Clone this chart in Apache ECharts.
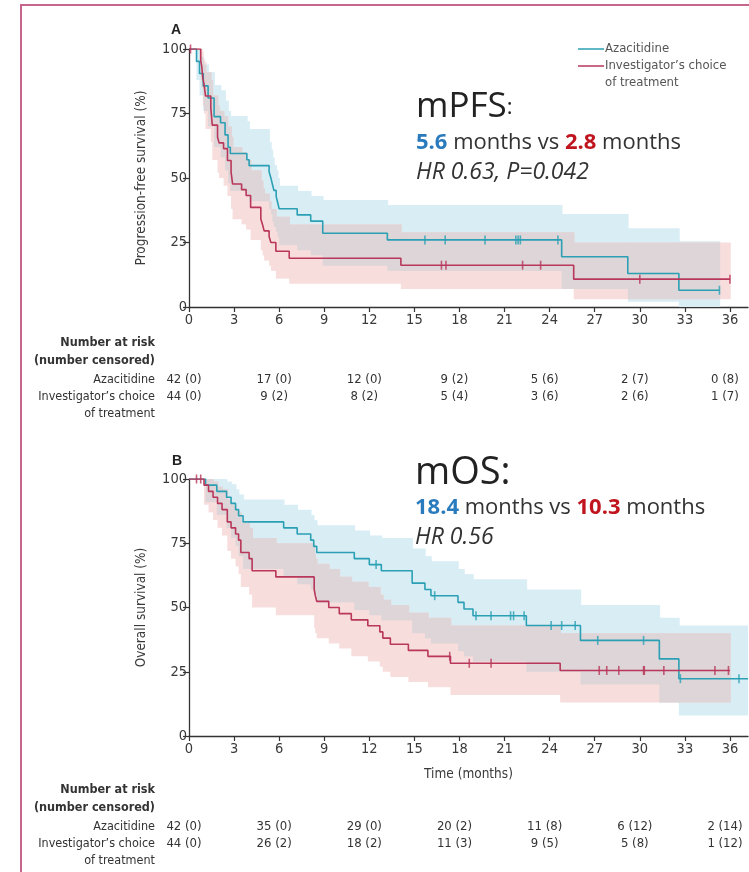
<!DOCTYPE html>
<html>
<head>
<meta charset="utf-8">
<script src="https://cdn.jsdelivr.net/npm/echarts@6/dist/echarts.min.js"></script>
<style>
  html, body { margin: 0; padding: 0; background: #fff; }
  #chart { width: 749px; height: 872px; }
</style>
</head>
<body>
<div id="chart"></div>
<script>
// ---- axis ticks ----
const monthTicks = [0, 3, 6, 9, 12, 15, 18, 21, 24, 27, 30, 33, 36];
const pctTicks = [0, 25, 50, 75, 100];
const riskTimes = [0, 6, 12, 18, 24, 30, 36];

// ---- A: progression-free survival, azacitidine ----
const pfsAzaT  = [0, 0.5, 0.7, 0.95, 1.27, 1.67, 2.1, 2.4, 2.6, 2.75, 3.85, 4.0, 5.33, 5.45, 5.55, 5.65, 5.8, 5.9, 6.0, 7.2, 8.1, 8.9, 13.2, 24.8, 29.2, 32.6];
const pfsAzaS  = [100, 95.2, 90.5, 85.7, 81.0, 73.8, 71.4, 66.7, 61.9, 59.5, 57.1, 54.8, 52.4, 50.0, 47.6, 45.2, 42.9, 40.5, 38.1, 35.7, 33.3, 28.6, 26.0, 19.5, 13.0, 6.5];
const pfsAzaHi = [100, 100, 97, 94, 91, 86, 84, 80, 76, 74, 72, 69, 64, 61, 58, 55, 53, 50, 47, 45, 43, 41.5, 39.5, 36, 30.5, 25.5];
const pfsAzaLo = [100, 88, 82, 76, 70, 62, 58, 53, 48, 45, 43, 41, 38, 36, 33, 31, 29, 27, 24, 22, 20, 16, 14, 7, 2, 0];
const pfsAzaEnd = 35.3;
const pfsAzaCens = [15.7, 17.05, 19.7, 21.75, 21.9, 22.05, 24.55, 35.3];

// ---- A: progression-free survival, investigator's choice ----
const pfsInvT  = [0, 0.78, 0.85, 0.92, 1.0, 1.1, 1.45, 1.55, 1.9, 2.0, 2.3, 2.56, 2.8, 2.9, 3.5, 3.8, 4.1, 4.78, 4.9, 5.0, 5.33, 5.45, 5.78, 6.67, 14.1, 25.6];
const pfsInvS  = [100, 95.5, 93.2, 88.6, 86.4, 81.8, 77.3, 70.5, 65.9, 63.6, 61.4, 56.8, 52.3, 47.7, 45.5, 43.2, 38.6, 34.1, 31.8, 29.5, 27.3, 25.0, 21.6, 18.9, 16.2, 10.8];
const pfsInvHi = [100, 100, 99, 96, 95, 91, 88, 82, 78, 76, 74, 70, 66, 62, 60, 57, 53, 49, 46, 44, 41, 38, 35, 32, 29, 25];
const pfsInvLo = [100, 88, 85, 78, 75, 69, 64, 57, 52, 50, 47, 43, 38, 34, 32, 30, 26, 22, 20, 18, 16, 14, 11, 9, 7, 3];
const pfsInvEnd = 36.0;
const pfsInvCens = [0.1, 16.8, 17.1, 22.2, 23.4, 30.0, 36.0];

// ---- B: overall survival, azacitidine ----
const osAzaT  = [0, 1.1, 1.85, 2.5, 2.8, 3.1, 3.3, 3.6, 6.3, 7.2, 8.1, 8.3, 8.5, 11.0, 12.0, 12.8, 14.85, 15.7, 16.1, 17.9, 18.3, 18.9, 22.45, 26.05, 31.3, 32.6];
const osAzaS  = [100, 97.6, 95.2, 92.9, 90.5, 88.1, 85.7, 83.3, 81.0, 78.6, 76.2, 73.8, 71.4, 69.0, 66.7, 64.3, 59.5, 57.0, 54.6, 52.0, 49.4, 46.8, 43.0, 37.2, 30.0, 22.3];
const osAzaHi = [100, 100, 100, 99, 98, 96, 94, 92, 90, 88, 86, 84, 82, 80, 78, 77, 73, 70, 68, 65, 63, 61, 57, 51, 46, 43];
const osAzaLo = [100, 91, 86, 81, 77, 74, 70, 65, 62, 59, 57, 55, 52, 49, 47, 45, 40, 38, 36, 33, 31, 29, 25, 20, 13, 8];
const osAzaEnd = 37.2;
const osAzaCens = [12.45, 16.35, 19.1, 20.1, 21.4, 21.6, 22.3, 24.1, 24.8, 25.7, 27.2, 30.25, 32.7, 36.6];

// ---- B: overall survival, investigator's choice ----
const osInvT  = [0, 1.0, 1.3, 1.6, 1.9, 2.2, 2.55, 2.8, 3.1, 3.3, 3.45, 4.0, 4.2, 5.78, 8.33, 8.4, 8.5, 9.3, 10.0, 10.8, 11.9, 12.7, 12.9, 13.4, 14.6, 15.9, 17.4, 24.7];
const osInvS  = [100, 97.6, 95.2, 92.9, 90.5, 88.1, 83.3, 81.0, 78.6, 76.2, 71.4, 69.0, 64.3, 61.9, 57.1, 54.8, 52.4, 50.0, 47.6, 45.2, 42.9, 40.5, 38.1, 35.7, 33.3, 31.0, 28.3, 25.5];
const osInvHi = [100, 100, 100, 99, 97, 96, 92, 90, 88, 87, 83, 81, 77, 75, 71, 69, 67, 65, 62, 60, 58, 55, 53, 51, 48, 46, 43, 40];
const osInvLo = [100, 90, 87, 84, 81, 78, 72, 69, 66, 63, 58, 55, 50, 47, 42, 40, 38, 36, 34, 31, 29, 27, 25, 23, 21, 19, 16, 13];
const osInvEnd = 36.0;
const osInvCens = [0.5, 0.78, 17.35, 18.65, 20.1, 27.3, 27.8, 28.6, 30.25, 30.3, 31.6, 35.0, 35.9];

// ---- numbers at risk (number censored) ----
const pfsAzaRisk = [42, 17, 12, 9, 5, 2, 0];
const pfsAzaRiskCens = [0, 0, 0, 2, 6, 7, 8];
const pfsInvRisk = [44, 9, 8, 5, 3, 2, 1];
const pfsInvRiskCens = [0, 2, 2, 4, 6, 6, 7];
const osAzaRisk = [42, 35, 29, 20, 11, 6, 2];
const osAzaRiskCens = [0, 0, 0, 2, 8, 12, 14];
const osInvRisk = [44, 26, 18, 11, 9, 5, 1];
const osInvRiskCens = [0, 2, 2, 3, 5, 8, 12];

// ---- styling ----
const TEAL = '#2ba0b4';
const CRIMSON = '#b8375a';
const BLUE_BAND = '#d9edf5';
const PINK_BAND = '#f8dddd';
const GREY_BAND = '#ddd5d8';
const NARROW = "'Liberation Sans Narrow','DejaVu Sans Condensed',sans-serif";
const SANS = "'Open Sans',Roboto,sans-serif";
const AXIS_COL = '#333';
const TXT_COL = '#3a3a3a';

function stepAt(T, V, t) {
  let v = V[0];
  for (let i = 0; i < T.length; i++) { if (T[i] <= t) v = V[i]; else break; }
  return v;
}
function curve(T, S, end) {
  const d = T.map((t, i) => [t, S[i]]);
  d.push([end, S[S.length - 1]]);
  return d;
}
// confidence band as [t0, t1, lower, upper] intervals
function bandCells(T, Lo, Hi, end) {
  return T.map((t, i) => [t, i + 1 < T.length ? T[i + 1] : end, Lo[i], Hi[i]]);
}
// region shared by both confidence bands
function overlapCells(a, b) {
  const end = Math.min(a.end, b.end);
  const pts = Array.from(new Set(a.T.concat(b.T))).filter(t => t < end).sort((x, y) => x - y);
  const out = [];
  pts.forEach((t, i) => {
    const t1 = i + 1 < pts.length ? pts[i + 1] : end;
    const lo = Math.max(stepAt(a.T, a.Lo, t), stepAt(b.T, b.Lo, t));
    const hi = Math.min(stepAt(a.T, a.Hi, t), stepAt(b.T, b.Hi, t));
    if (hi > lo) out.push([t, t1, lo, hi]);
  });
  return out;
}
function censorPts(T, S, C) {
  return C.map(t => [t, stepAt(T, S, t)]);
}
function bandSeries(idx, cells, color) {
  return {
    type: 'custom', xAxisIndex: idx, yAxisIndex: idx, data: cells, silent: true, z: 1, clip: true,
    encode: { x: [0, 1], y: [2, 3] },
    renderItem: (params, api) => {
      const a = api.coord([api.value(0), api.value(3)]);
      const b = api.coord([api.value(1), api.value(2)]);
      return { type: 'rect', shape: { x: a[0], y: a[1], width: b[0] - a[0] + 0.8, height: b[1] - a[1] },
        style: { fill: color } };
    }
  };
}

function panelSeries(idx, aza, inv) {
  const s = [];
  s.push(bandSeries(idx, bandCells(aza.T, aza.Lo, aza.Hi, aza.end), BLUE_BAND));
  s.push(bandSeries(idx, bandCells(inv.T, inv.Lo, inv.Hi, inv.end), PINK_BAND));
  s.push(bandSeries(idx, overlapCells(aza, inv), GREY_BAND));
  s.push({ type: 'line', xAxisIndex: idx, yAxisIndex: idx, step: 'end', data: curve(aza.T, aza.S, aza.end),
    symbol: 'none', lineStyle: { color: TEAL, width: 1.6 }, z: 3 });
  s.push({ type: 'line', xAxisIndex: idx, yAxisIndex: idx, step: 'end', data: curve(inv.T, inv.S, inv.end),
    symbol: 'none', lineStyle: { color: CRIMSON, width: 1.6 }, z: 3 });
  s.push({ type: 'scatter', xAxisIndex: idx, yAxisIndex: idx, data: censorPts(aza.T, aza.S, aza.C),
    symbol: 'rect', symbolSize: [1.6, 9], itemStyle: { color: TEAL }, z: 4 });
  s.push({ type: 'scatter', xAxisIndex: idx, yAxisIndex: idx, data: censorPts(inv.T, inv.S, inv.C),
    symbol: 'rect', symbolSize: [1.6, 9], itemStyle: { color: CRIMSON }, z: 4 });
  return s;
}

const pfsAza = { T: pfsAzaT, S: pfsAzaS, Hi: pfsAzaHi, Lo: pfsAzaLo, end: pfsAzaEnd, C: pfsAzaCens };
const pfsInv = { T: pfsInvT, S: pfsInvS, Hi: pfsInvHi, Lo: pfsInvLo, end: pfsInvEnd, C: pfsInvCens };
const osAza = { T: osAzaT, S: osAzaS, Hi: osAzaHi, Lo: osAzaLo, end: osAzaEnd, C: osAzaCens };
const osInv = { T: osInvT, S: osInvS, Hi: osInvHi, Lo: osInvLo, end: osInvEnd, C: osInvCens };

function xAxisCfg(idx, name) {
  return {
    gridIndex: idx, type: 'value', min: 0, max: 37.2,
    name: name || '', nameLocation: 'middle', nameGap: 31,
    nameTextStyle: { fontFamily: NARROW, fontSize: 13.5, color: TXT_COL },
    axisLine: { show: true, lineStyle: { color: AXIS_COL, width: 1.3 } },
    axisTick: { show: true, customValues: monthTicks, length: 5, lineStyle: { color: AXIS_COL, width: 1.2 } },
    axisLabel: { customValues: monthTicks, fontFamily: NARROW, fontSize: 14.5, color: TXT_COL, margin: 6,
      formatter: v => (monthTicks.indexOf(v) >= 0 ? String(v) : '') },
    splitLine: { show: false }
  };
}
function yAxisCfg(idx, name) {
  return {
    gridIndex: idx, type: 'value', min: 0, max: 100, interval: 25,
    name: name, nameLocation: 'middle', nameGap: 41,
    nameTextStyle: { fontFamily: NARROW, fontSize: 13.5, color: TXT_COL },
    axisLine: { show: true, lineStyle: { color: AXIS_COL, width: 1.3 } },
    axisTick: { show: true, length: 6, lineStyle: { color: AXIS_COL, width: 1.2 } },
    axisLabel: { fontFamily: NARROW, fontSize: 14.5, color: TXT_COL, margin: 2,
      formatter: v => (pctTicks.indexOf(v) >= 0 ? String(v) : '') },
    splitLine: { show: false }
  };
}

const chart = echarts.init(document.getElementById('chart'), null, { renderer: 'canvas' });
chart.setOption({
  animation: false,
  backgroundColor: '#fff',
  grid: [
    { left: 189, top: 49, width: 559, height: 258 },
    { left: 189, top: 479, width: 559, height: 257 }
  ],
  xAxis: [xAxisCfg(0), xAxisCfg(1, 'Time (months)')],
  yAxis: [yAxisCfg(0, 'Progression-free survival (%)'), yAxisCfg(1, 'Overall survival (%)')],
  series: panelSeries(0, pfsAza, pfsInv).concat(panelSeries(1, osAza, osInv))
});

// ---- text overlays: legend, summary statistics, risk tables ----
const g = [];
g.push({ type: 'rect', shape: { x: 21, y: 5, width: 800, height: 900 }, style: { fill: 'none', stroke: '#c8658c', lineWidth: 2 }, z: 10 });
g.push({ type: 'text', x: 171, y: 30, style: { text: 'A', font: "bold 14px 'Liberation Sans',sans-serif", fill: '#222', verticalAlign: 'middle' } });
g.push({ type: 'text', x: 172, y: 461, style: { text: 'B', font: "bold 14px 'Liberation Sans',sans-serif", fill: '#222', verticalAlign: 'middle' } });

// legend
g.push({ type: 'line', shape: { x1: 578, y1: 49, x2: 604, y2: 49 }, style: { stroke: TEAL, lineWidth: 1.5 } });
g.push({ type: 'line', shape: { x1: 578, y1: 66, x2: 604, y2: 66 }, style: { stroke: CRIMSON, lineWidth: 1.5 } });
g.push({ type: 'text', x: 605, y: 49, style: { text: 'Azacitidine', font: '13px ' + NARROW, fill: '#555', verticalAlign: 'middle' } });
g.push({ type: 'text', x: 605, y: 66, style: { text: 'Investigator\u2019s choice', font: '13px ' + NARROW, fill: '#555', verticalAlign: 'middle' } });
g.push({ type: 'text', x: 605, y: 83, style: { text: 'of treatment', font: '13px ' + NARROW, fill: '#555', verticalAlign: 'middle' } });

// summary statistics
function summary(x, yTitle, title, titleSize, colonSize, yLine, aza, inv, yHr, hr) {
  g.push({ type: 'text', x: x, y: yTitle, style: { text: '{t|' + title + '}{c|:}',
    verticalAlign: 'bottom', rich: { t: { font: titleSize + 'px ' + SANS, fill: '#222' }, c: { font: colonSize + 'px ' + SANS, fill: '#222' } } } });
  g.push({ type: 'text', x: x, y: yLine, style: { text: '{b|' + aza + '}{n| months vs }{r|' + inv + '}{n| months}',
    verticalAlign: 'middle', rich: {
      b: { font: 'bold 22px ' + SANS, fill: '#2a7bbd' },
      r: { font: 'bold 22px ' + SANS, fill: '#c0151f' },
      n: { font: '22px ' + SANS, fill: '#333' } } } });
  g.push({ type: 'text', x: x, y: yHr, style: { text: hr, font: 'italic 23px ' + SANS, fill: '#333', verticalAlign: 'middle' } });
}
summary(416, 125, 'mPFS', 35, 22, 143, '5.6', '2.8', 172, 'HR 0.63, P=0.042');
summary(415, 492, 'mOS', 38, 38, 508, '18.4', '10.3', 537, 'HR 0.56');

// risk tables
function riskTable(gridIdx, yTop, aza, azaC, inv, invC) {
  const lab = (text, y, bold) => g.push({ type: 'text', x: 155, y: y, style: { text: text,
    font: (bold ? 'bold ' : '') + '12.5px ' + NARROW, fill: '#333', align: 'right', verticalAlign: 'middle' } });
  lab('Number at risk', yTop, true);
  lab('(number censored)', yTop + 18, true);
  lab('Azacitidine', yTop + 37, false);
  lab('Investigator\u2019s choice', yTop + 54, false);
  lab('of treatment', yTop + 71, false);
  riskTimes.forEach((t, i) => {
    const px = chart.convertToPixel({ xAxisIndex: gridIdx }, t) - 5;
    g.push({ type: 'text', x: px, y: yTop + 37, style: { text: aza[i] + ' (' + azaC[i] + ')', font: '13px ' + NARROW, fill: '#333', align: 'center', verticalAlign: 'middle' } });
    g.push({ type: 'text', x: px, y: yTop + 54, style: { text: inv[i] + ' (' + invC[i] + ')', font: '13px ' + NARROW, fill: '#333', align: 'center', verticalAlign: 'middle' } });
  });
}
riskTable(0, 343, pfsAzaRisk, pfsAzaRiskCens, pfsInvRisk, pfsInvRiskCens);
riskTable(1, 790, osAzaRisk, osAzaRiskCens, osInvRisk, osInvRiskCens);

chart.setOption({ graphic: g });
</script>
</body>
</html>
